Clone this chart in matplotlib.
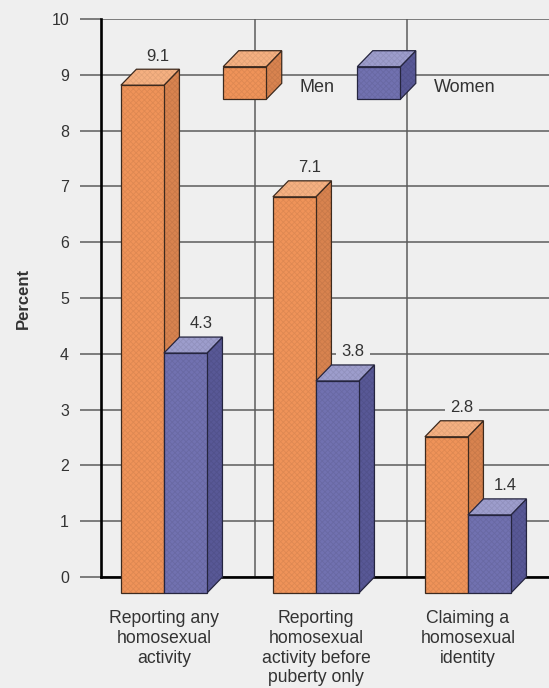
"""
Percent of men and women reporting homosexual activity / identity,
drawn as 3-D style paired bars with a box legend.
"""

import matplotlib.pyplot as plt
from matplotlib.patches import Polygon

plt.rcParams['font.family'] = ['Liberation Sans', 'DejaVu Sans']
plt.rcParams['hatch.linewidth'] = 0.6

# ── Data ──
categories = [
    "Reporting any\nhomosexual\nactivity",
    "Reporting\nhomosexual\nactivity before\npuberty only",
    "Claiming a\nhomosexual\nidentity",
]
men = [9.1, 7.1, 2.8]
women = [4.3, 3.8, 1.4]
series_names = ["Men", "Women"]

# ── Styling ──
BG = '#efefef'
GRID = '#5c5c5c'
TEXT = '#333333'
ORANGE = dict(front='#ef9359', top='#f5b081', side='#d8834f', edge='#3d2a1e')
BLUE = dict(front='#7171b0', top='#9d9dcc', side='#585896', edge='#25253f')

BAR_W = 0.283      # bar width in category units
DX = 0.102         # depth offset (x, category units)
DY = 0.287         # depth offset (y, percent units)


def draw_box(ax, x0, y0, height, colors, zorder=3):
    """Draw a 3-D box whose back face spans [x0, x0+BAR_W] x [y0, y0+height]."""
    x1 = x0 + BAR_W
    fx0, fx1 = x0 - DX, x1 - DX
    fy0, fy1 = y0 - DY, y0 + height - DY
    faces = [
        ([(fx1, fy0), (x1, y0), (x1, y0 + height), (fx1, fy1)], colors['side']),
        ([(fx0, fy1), (fx1, fy1), (x1, y0 + height), (x0, y0 + height)], colors['top']),
        ([(fx0, fy0), (fx1, fy0), (fx1, fy1), (fx0, fy1)], colors['front']),
    ]
    for pts, fc in faces:
        ax.add_patch(Polygon(pts, closed=True, facecolor=fc, edgecolor='none',
                             clip_on=False, zorder=zorder))
        # fine print-screen texture
        ax.add_patch(Polygon(pts, closed=True, facecolor='none',
                             edgecolor=(0, 0, 0, 0.07), hatch='xxxxxx', linewidth=0,
                             clip_on=False, zorder=zorder))
        ax.add_patch(Polygon(pts, closed=True, facecolor='none',
                             edgecolor=colors['edge'], linewidth=0.9, joinstyle='miter',
                             clip_on=False, zorder=zorder))


fig = plt.figure(figsize=(5.49, 6.88), dpi=100, facecolor=BG)
ax = fig.add_axes([101 / 549, 111 / 688, 456 / 549, 558 / 688])
ax.set_facecolor(BG)
ax.set_xlim(-0.516, 2.484)
ax.set_ylim(0, 10)

# grid and axes
ax.set_axisbelow(True)
ax.set_yticks(range(0, 11))
ax.yaxis.grid(True, color=GRID, linewidth=1.1)
ax.set_xticks([0.5, 1.5], minor=True)
ax.xaxis.grid(True, which='minor', color=GRID, linewidth=1.1)
ax.tick_params(axis='y', length=15, width=1.1, color=GRID, pad=8,
               labelsize=11.5, labelcolor=TEXT)
ax.tick_params(axis='x', which='both', length=0)
for side in ('top', 'right'):
    ax.spines[side].set_visible(False)
for side in ('left', 'bottom'):
    ax.spines[side].set_color('black')
    ax.spines[side].set_linewidth(1.9)

# category labels centred under the front faces
ax.set_xticks([i - DX for i in range(len(categories))])
ax.set_xticklabels(categories, fontsize=12.7, color=TEXT)
ax.tick_params(axis='x', pad=24)
for lbl in ax.get_xticklabels():
    lbl.set_linespacing(1.2)
    lbl.set_verticalalignment('top')

ax.set_ylabel("Percent", fontsize=12, fontweight='bold', color=TEXT, labelpad=15)

# bars and value labels (labels sit under the bars so their backing
# only breaks the gridlines, never the bar tops)
for i, (m, w) in enumerate(zip(men, women)):
    for x0, val, colors in ((i - BAR_W, m, ORANGE), (i, w, BLUE)):
        draw_box(ax, x0, 0, val, colors)
        ax.text(x0 + BAR_W / 2, val + 0.1, f"{val:.1f}", ha='center', va='bottom',
                fontsize=12, color=TEXT, zorder=2.5,
                bbox=dict(boxstyle='square,pad=0.35', facecolor=BG, edgecolor='none'))

# legend boxes
for x0, colors, name, tx in ((0.390, ORANGE, series_names[0], 0.793),
                             (1.272, BLUE, series_names[1], 1.675)):
    draw_box(ax, x0, 8.56 + DY, 0.585, colors, zorder=4)
    ax.text(tx, 8.78, name, ha='left', va='center', fontsize=13, color=TEXT, zorder=4)

fig.savefig('out.png', dpi=100, facecolor=BG)
